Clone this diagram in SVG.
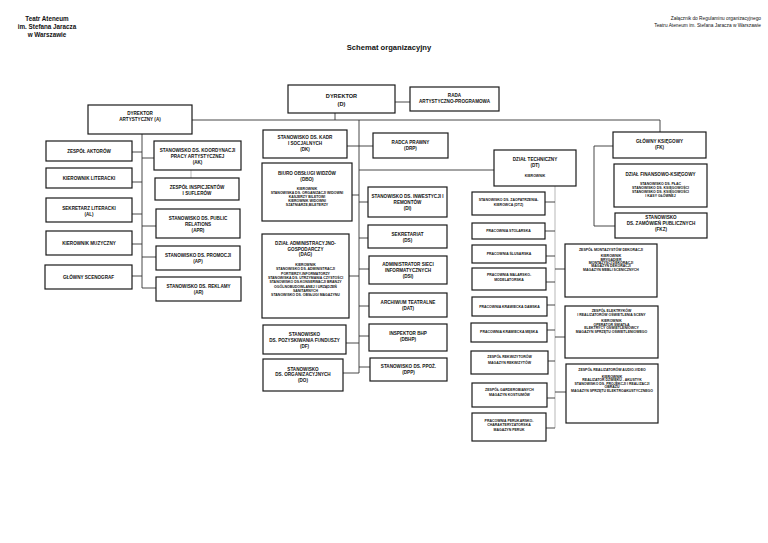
<svg xmlns="http://www.w3.org/2000/svg" width="768" height="543" viewBox="0 0 768 543">
<style>
text{font-family:"Liberation Sans",Arial,sans-serif;fill:#111;text-anchor:middle}
.b{fill:#fff;stroke:#1a1a1a;stroke-width:1.2}
.t{font-size:4.6px;font-weight:bold}
.m{font-size:5.6px;font-weight:bold}
.s{font-size:3.5px;font-weight:bold}
.c{fill:none;stroke:#333;stroke-width:0.9}
.g{fill:none;stroke:#999;stroke-width:0.7}
</style>
<rect width="768" height="543" fill="#fff"/>
<g id="header">
<text x="47" y="21" style="font-size:6.3px;font-weight:bold">Teatr Ateneum</text>
<text x="47" y="29" style="font-size:6.3px;font-weight:bold">im. Stefana Jaracza</text>
<text x="47" y="37" style="font-size:6.3px;font-weight:bold">w Warszawie</text>
<text x="761" y="20" style="font-size:4.8px;text-anchor:end">Załącznik do Regulaminu organizacyjnego</text>
<text x="761" y="27" style="font-size:4.8px;text-anchor:end">Teatru Ateneum im. Stefana Jaracza w Warszawie</text>
<text x="389" y="50" style="font-size:7.6px;font-weight:bold">Schemat organizacyjny</text>
</g>
<g id="connectors">
<path class="c" d="M395 102H410M335 113V120M192 120H660V132M359 120V373"/>
<path class="c" d="M347 146H373M359 170H494M352 195H359M359 202H368M359 238H368M349 276H359M359 269H369M359 306H369M346 343H359M359 336H369M343 373H359M359 367H370"/>
<path class="c" d="M142 134V288M132 152H142M132 182H142M132 214H142M132 244H142M132 276H142M142 158H154M142 226H156M142 257H156M142 288H156"/>
<path class="g" d="M191 170V178"/>
<path class="c" d="M613 146H594V226H615"/>
<path class="g" d="M555 186V428"/>
<path class="c" d="M545 202H555M545 231H555M546 256H555M546 282H555M547 305H555M547 330H555M548 361H555M547 398H555M546 428H555M555 269H565M555 337H565M555 392H566"/>
</g>
<g id="n-d"><rect class="b" x="288" y="85" width="107" height="28"/><text class="m" x="341.5" y="98">DYREKTOR</text><text class="m" x="341.5" y="105.5">(D)</text></g>
<g id="n-rada"><rect class="b" x="410" y="87" width="89" height="24"/><text class="t" x="454.5" y="97">RADA</text><text class="t" x="454.5" y="103">ARTYSTYCZNO-PROGRAMOWA</text></g>
<g id="n-a"><rect class="b" x="88" y="105" width="104" height="29"/><text class="t" x="140" y="115">DYREKTOR</text><text class="t" x="140" y="121">ARTYSTYCZNY  (A)</text></g>
<g id="n-za"><rect class="b" x="46" y="141" width="86" height="20"/><text class="t" x="89" y="152.5">ZESPÓŁ AKTORÓW</text></g>
<g id="n-kl"><rect class="b" x="46" y="168" width="86" height="20"/><text class="t" x="89" y="179.5">KIEROWNIK LITERACKI</text></g>
<g id="n-al"><rect class="b" x="46" y="198" width="86" height="24"/><text class="t" x="89" y="209.5">SEKRETARZ LITERACKI</text><text class="t" x="89" y="215.5">(AL)</text></g>
<g id="n-km"><rect class="b" x="46" y="231" width="86" height="24"/><text class="t" x="89" y="244.5">KIEROWNIK MUZYCZNY</text></g>
<g id="n-gs"><rect class="b" x="45" y="265" width="87" height="24"/><text class="t" x="88.5" y="278.5">GŁÓWNY SCENOGRAF</text></g>
<g id="n-ak"><rect class="b" x="154" y="141" width="87" height="29"/><text class="t" x="197.5" y="151.5">STANOWISKO DS. KOORDYNACJI</text><text class="t" x="197.5" y="157.5">PRACY ARTYSTYCZNEJ</text><text class="t" x="197.5" y="163.5">(AK)</text></g>
<g id="n-zi"><rect class="b" x="155" y="178" width="84" height="22"/><text class="t" x="197" y="188.5">ZESPÓŁ INSPICJENTÓW</text><text class="t" x="197" y="194.5">I SUFLERÓW</text></g>
<g id="n-apr"><rect class="b" x="156" y="209" width="84" height="29"/><text class="t" x="198" y="219.5">STANOWISKO DS.  PUBLIC</text><text class="t" x="198" y="225.5">RELATIONS</text><text class="t" x="198" y="231.5">(APR)</text></g>
<g id="n-ap"><rect class="b" x="156" y="246" width="84" height="24"/><text class="t" x="198" y="256.5">STANOWISKO DS. PROMOCJI</text><text class="t" x="198" y="262.5">(AP)</text></g>
<g id="n-ar"><rect class="b" x="156" y="277" width="85" height="24"/><text class="t" x="198.5" y="287.5">STANOWISKO DS. REKLAMY</text><text class="t" x="198.5" y="293.5">(AR)</text></g>
<g id="n-dk"><rect class="b" x="263" y="130" width="84" height="28"/><text class="t" x="305" y="138.5">STANOWISKO DS. KADR</text><text class="t" x="305" y="144.5">I SOCJALNYCH</text><text class="t" x="305" y="150.5">(DK)</text></g>
<g id="n-drp"><rect class="b" x="373" y="133" width="75" height="25"/><text class="t" x="410.5" y="143.5">RADCA PRAWNY</text><text class="t" x="410.5" y="149.5">(DRP)</text></g>
<g id="n-dbo"><rect class="b" x="262" y="163" width="90" height="58"/><text class="t" x="307" y="174.5">BIURO OBSŁUGI WIDZÓW</text><text class="t" x="307" y="180.5">(DBO)</text><text class="s" x="307" y="190">KIEROWNIK</text><text class="s" x="307" y="194">STANOWISKA DS. ORGANIZACJI WIDOWNI</text><text class="s" x="307" y="198">KASJERZY BILETOWI</text><text class="s" x="307" y="202">KIEROWNIK WIDOWNI</text><text class="s" x="307" y="206">SZATNIARZE,BILETERZY</text></g>
<g id="n-di"><rect class="b" x="368" y="187" width="79" height="30"/><text class="t" x="407.5" y="197.5">STANOWISKO DS. INWESTYCJI I</text><text class="t" x="407.5" y="203.5">REMONTÓW</text><text class="t" x="407.5" y="209.5">(DI)</text></g>
<g id="n-ds"><rect class="b" x="368" y="225" width="79" height="23"/><text class="t" x="407.5" y="235.5">SEKRETARIAT</text><text class="t" x="407.5" y="241.5">(DS)</text></g>
<g id="n-dag"><rect class="b" x="262" y="234" width="87" height="84"/><text class="t" x="305.5" y="244.5">DZIAŁ ADMINISTRACYJNO-</text><text class="t" x="305.5" y="250.5">GOSPODARCZY</text><text class="t" x="305.5" y="256">(DAG)</text><text class="s" x="305.5" y="266">KIEROWNIK</text><text class="s" x="305.5" y="270.3">STANOWISKO DS. ADMINISTRACJI</text><text class="s" x="305.5" y="274.6">PORTIERZY-INFORMATORZY</text><text class="s" x="305.5" y="278.9">STANOWISKA DS. UTRZYMANIA CZYSTOŚCI</text><text class="s" x="305.5" y="283.2">STANOWISKO DS.KONSERWACJI BRANŻY</text><text class="s" x="305.5" y="287.5">OGÓLNOBUDOWLANEJ I URZĄDZEŃ</text><text class="s" x="305.5" y="291.8">SANITARNYCH</text><text class="s" x="305.5" y="296.1">STANOWISKO DS. OBSŁUGI MAGAZYNU</text></g>
<g id="n-dsi"><rect class="b" x="369" y="256" width="78" height="28"/><text class="t" x="408" y="265.5">ADMINISTRATOR SIECI</text><text class="t" x="408" y="271.5">INFORMATYCZNYCH</text><text class="t" x="408" y="277.5">(DSI)</text></g>
<g id="n-dat"><rect class="b" x="369" y="293" width="78" height="24"/><text class="t" x="408" y="303.5">ARCHIWUM TEATRALNE</text><text class="t" x="408" y="309.5">(DAT)</text></g>
<g id="n-df"><rect class="b" x="263" y="325" width="83" height="29"/><text class="t" x="304.5" y="335.5">STANOWISKO</text><text class="t" x="304.5" y="341.5">DS. POZYSKIWANIA FUNDUSZY</text><text class="t" x="304.5" y="347.5">(DF)</text></g>
<g id="n-dbhp"><rect class="b" x="369" y="324" width="78" height="27"/><text class="t" x="408" y="334.5">INSPEKTOR BHP</text><text class="t" x="408" y="340.5">(DBHP)</text></g>
<g id="n-do"><rect class="b" x="263" y="359" width="80" height="32"/><text class="t" x="303" y="370.5">STANOWISKO</text><text class="t" x="303" y="376">DS. ORGANIZACYJNYCH</text><text class="t" x="303" y="382">(DO)</text></g>
<g id="n-dpp"><rect class="b" x="370" y="358" width="77" height="23"/><text class="t" x="408.5" y="367.5">STANOWISKO DS. PPOŻ.</text><text class="t" x="408.5" y="373.5">(DPP)</text></g>
<g id="n-dt"><rect class="b" x="494" y="150" width="82" height="36"/><text class="t" x="535" y="160.5">DZIAŁ TECHNICZNY</text><text class="t" x="535" y="166.5">(DT)</text><text class="s" x="535" y="176.5">KIEROWNIK</text></g>
<g id="n-fk"><rect class="b" x="613" y="132" width="93" height="26"/><text class="t" x="659.5" y="142.5">GŁÓWNY KSIĘGOWY</text><text class="t" x="659.5" y="148.5">(FK)</text></g>
<g id="n-dfk"><rect class="b" x="614" y="164" width="93" height="43"/><text class="t" x="660.5" y="175.5">DZIAŁ FINANSOWO-KSIĘGOWY</text><text class="s" x="660.5" y="184.5">STANOWISKO DS. PŁAC</text><text class="s" x="660.5" y="188.5">STANOWISKO DS. KSIĘGOWOŚCI</text><text class="s" x="660.5" y="192.5">STANOWISKO DS. KSIĘGOWOŚCI</text><text class="s" x="660.5" y="196.5">I KASY GŁÓWNEJ</text></g>
<g id="n-fkz"><rect class="b" x="615" y="213" width="92" height="25"/><text class="t" x="661" y="218.5">STANOWISKO</text><text class="t" x="661" y="224.5">DS. ZAMÓWIEŃ PUBLICZNYCH</text><text class="t" x="661" y="230.5">(FKZ)</text></g>
<g id="n-dtz"><rect class="b" x="472" y="192" width="73" height="23"/><text class="s" x="508.5" y="201">STANOWISKO DS. ZAOPATRZENIA-</text><text class="s" x="508.5" y="206">KIEROWCA (DTZ)</text></g>
<g id="n-ps"><rect class="b" x="472" y="223" width="73" height="16"/><text class="s" x="508.5" y="232.2">PRACOWNIA STOLARSKA</text></g>
<g id="n-psl"><rect class="b" x="472" y="245" width="74" height="18"/><text class="s" x="509" y="255.2">PRACOWNIA ŚLUSARSKA</text></g>
<g id="n-pmm"><rect class="b" x="472" y="268" width="74" height="22"/><text class="s" x="509" y="276.2">PRACOWNIA MALARSKO-</text><text class="s" x="509" y="281.2">MODELATORSKA</text></g>
<g id="n-pkd"><rect class="b" x="472" y="297" width="75" height="19"/><text class="s" x="509.5" y="307.7">PRACOWNIA KRAWIECKA DAMSKA</text></g>
<g id="n-pkm"><rect class="b" x="471" y="323" width="76" height="19"/><text class="s" x="509" y="333.2">PRACOWNIA KRAWIECKA MĘSKA</text></g>
<g id="n-zr"><rect class="b" x="471" y="351" width="77" height="23"/><text class="s" x="509.5" y="358.2">ZESPÓŁ REKWIZYTORÓW</text><text class="s" x="509.5" y="364.2">MAGAZYN REKWIZYTÓW</text></g>
<g id="n-zg"><rect class="b" x="472" y="383" width="75" height="24"/><text class="s" x="509.5" y="391.2">ZESPÓŁ GARDEROBIANYCH</text><text class="s" x="509.5" y="396.2">MAGAZYN KOSTIUMÓW</text></g>
<g id="n-pp"><rect class="b" x="472" y="413" width="74" height="28"/><text class="s" x="509" y="421.7">PRACOWNIA PERUKARSKO-</text><text class="s" x="509" y="426.2">CHARAKTERYZATORSKA</text><text class="s" x="509" y="430.7">MAGAZYN PERUK</text></g>
<g id="n-zmd"><rect class="b" x="565" y="244" width="92" height="53"/><text class="s" x="611" y="251.2">ZESPÓŁ MONTAŻYSTÓW DEKORACJI</text><text class="s" x="611" y="257.2">KIEROWNIK</text><text class="s" x="611" y="260.6">BRYGADIER</text><text class="s" x="611" y="264">MONTAŻYŚCI DEKORACJI</text><text class="s" x="611" y="267.4">MAGAZYN DEKORACJI</text><text class="s" x="611" y="270.8">MAGAZYN MEBLI SCENICZNYCH</text></g>
<g id="n-ze"><rect class="b" x="565" y="306" width="93" height="52"/><text class="s" x="611.5" y="312.2">ZESPÓŁ ELEKTRYKÓW</text><text class="s" x="611.5" y="316">I REALIZATORÓW OŚWIETLENIA SCENY</text><text class="s" x="611.5" y="322">KIEROWNIK</text><text class="s" x="611.5" y="325.6">OPERATOR ŚWIATŁA</text><text class="s" x="611.5" y="329.2">ELEKTRYCY OŚWIETLENIOWCY</text><text class="s" x="611.5" y="332.8">MAGAZYN SPRZĘTU OŚWIETLENIOWEGO</text></g>
<g id="n-zav"><rect class="b" x="566" y="364" width="92" height="59"/><text class="s" x="612" y="371.2">ZESPÓŁ REALIZATORÓW  AUDIO-VIDEO</text><text class="s" x="612" y="377.6">KIEROWNIK</text><text class="s" x="612" y="381.2">REALIZATOR DŹWIĘKU - AKUSTYK</text><text class="s" x="612" y="384.8">STANOWISKO DS. PROJEKCJI I REALIZACJI</text><text class="s" x="612" y="388.4">OBRAZU</text><text class="s" x="612" y="392">MAGAZYN SPRZĘTU ELEKTROAKUSTYCZNEGO</text></g>
</svg>
